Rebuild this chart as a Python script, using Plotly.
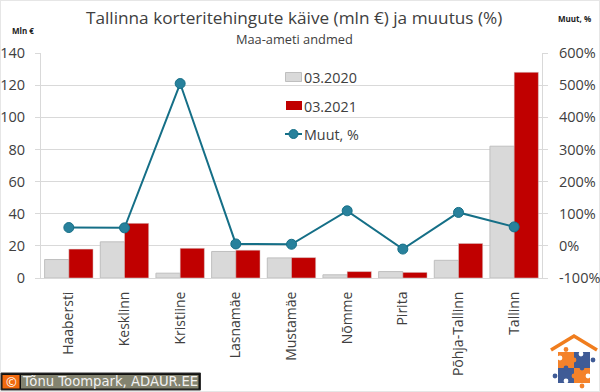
import plotly.graph_objects as go

categories = ["Haabersti", "Kesklinn", "Kristiine", "Lasnamäe", "Mustamäe", "Nõmme", "Pirita", "Põhja-Tallinn", "Tallinn"]
v2020 = [11.5, 22.5, 3, 16.5, 12.5, 2, 4, 11, 82]
v2021 = [18, 34, 18.5, 17.3, 12.7, 4, 3.5, 21.5, 128]
muut = [57, 56, 505, 6, 5, 109, -10, 104, 59]
left_ticks = [0, 20, 40, 60, 80, 100, 120, 140]
right_ticks = [-100, 0, 100, 200, 300, 400, 500, 600]
right_labels = ["-100%", "0%", "100%", "200%", "300%", "400%", "500%", "600%"]
W, H = 600, 392
ML, MR, MT, MB = 41, 58, 53, 114
TXT = "#404040"
FONT = "Open Sans"
LINE = "#156F87"
MARK = "#28819C"

fig = go.Figure()
fig.add_bar(x=categories, y=v2020, name="03.2020", marker=dict(color="#D9D9D9", line=dict(color="#BFBFBF", width=1)))
fig.add_bar(x=categories, y=v2021, name="03.2021", marker=dict(color="#C00000", line=dict(color="#D9D9D9", width=0.5)))
fig.add_scatter(x=categories, y=muut, name="Muut, %", mode="lines+markers", yaxis="y2",
                line=dict(color=LINE, width=2),
                marker=dict(size=10, color=MARK, line=dict(color=LINE, width=1)))

PW, PH = W - ML - MR, H - MT - MB
def px(x, y):
    return (x - ML) / PW, 1 - (y - MT) / PH

shapes = []
def rect(x0, y0, x1, y1, fill, line=None, lw=0, layer="above"):
    a, b = px(x0, y0); c, d = px(x1, y1)
    shapes.append(dict(type="rect", xref="paper", yref="paper", x0=a, y0=d, x1=c, y1=b, fillcolor=fill,
                       line=dict(color=line or fill, width=lw), layer=layer))
def poly(points, fill=None, line=None, lw=0):
    s = []
    for x, y in points:
        a, b = px(x, y)
        s.append(f"{a:.5f},{b:.5f}")
    path = "M " + " L ".join(s) + (" Z" if fill else "")
    shapes.append(dict(type="path", xref="paper", yref="paper", path=path, fillcolor=fill,
                       line=dict(color=line or "rgba(0,0,0,0)", width=lw), layer="above"))
def dot(cx, cy, r, fill, line=None, lw=0):
    a, b = px(cx - r, cy - r); c, d = px(cx + r, cy + r)
    shapes.append(dict(type="circle", xref="paper", yref="paper", x0=a, y0=d, x1=c, y1=b, fillcolor=fill,
                       line=dict(width=lw, color=line or fill), layer="above"))

# page edge
rect(0, 0, 600, 392, "rgba(0,0,0,0)", "#E6E6E6", 2, layer="below")
# copyright box
rect(1, 373, 200.5, 390, "#111111", "#333333", 1)
rect(2.5, 375, 19.5, 388.5, "#F26A0F")
rect(21, 375, 198.5, 388.5, "#83836F")
# logo
poly([(551, 350), (574, 336), (597, 350)], None, "#F07D1E", 3.5)
rect(558, 352, 574, 368, "#F4822A")
rect(574, 352, 590, 368, "#3F5B96")
rect(558, 368, 574, 383, "#3F5B96")
rect(574, 368, 590, 383, "#F4822A")
for cx, cy, c in [(566, 349.5, "#F4822A"), (593, 360, "#3F5B96"), (555, 376, "#3F5B96"), (582, 386, "#F4822A"),
                  (566, 368, "#3F5B96"), (582, 368, "#3F5B96"), (574, 376, "#F4822A"), (574, 360, "#F4822A"),
                  (581, 354, "#FFFFFF"), (566, 381, "#FFFFFF"), (588, 376, "#FFFFFF"), (560, 358, "#FFFFFF")]:
    dot(cx, cy, 2.4, c)
# legend swatches
rect(285.5, 72.5, 301.5, 81.5, "#D9D9D9", "#BFBFBF", 1)
rect(286, 101, 302, 110, "#C00000")
poly([(285, 134), (302, 134)], None, LINE, 2)
dot(293.5, 134, 4.5, MARK, LINE, 1)

def note(text, x, y, size, color=TXT, xa="center", family=FONT, bold=False):
    a, b = px(x, y)
    fig.add_annotation(text=f"<b>{text}</b>" if bold else text, xref="paper", yref="paper", x=a, y=b, showarrow=False,
                       xanchor=xa, yanchor="middle", font=dict(size=size, color=color, family=family))

note("Tallinna korteritehingute käive (mln €) ja muutus (%)", 294, 17.5, 17.2)
note("Maa-ameti andmed", 294, 39, 12.8)
note("Mln €", 23, 30, 8, "#222222", bold=True)
note("Muut, %", 574, 18, 8, "#222222", bold=True)
note("©", 11, 381.5, 13, "#FFFFFF")
note("Tõnu Toompark, ADAUR.EE", 20, 381.5, 13.2, "#F2F2F2", xa="left", family="DejaVu Sans")
note("03.2020", 301.5, 77, 14.3, xa="left")
note("03.2021", 301.5, 106, 14.3, xa="left")
note("Muut, %", 301.5, 134, 14.3, xa="left")

axis_line = "#D9D9D9"
fig.update_layout(
    width=W, height=H, autosize=False, paper_bgcolor="white", plot_bgcolor="white",
    margin=dict(l=ML, r=MR, t=MT, b=MB, pad=0, autoexpand=False),
    barmode="group", bargap=0.13, bargroupgap=0, showlegend=False,
    font=dict(family=FONT, color=TXT, size=14),
    shapes=shapes,
    xaxis=dict(type="category", range=[-0.5, 8.5], tickangle=-90, showgrid=False, showline=True, linecolor=axis_line, ticks="",
               tickfont=dict(size=14, color=TXT), ticklabelstandoff=7),
    yaxis=dict(range=[0, 140], tickvals=left_ticks, showgrid=True, gridcolor=axis_line, gridwidth=1, showline=True,
               linecolor=axis_line, ticks="outside", ticklen=5, tickcolor=axis_line, tickfont=dict(size=14.5, color=TXT),
               zeroline=False, ticklabelstandoff=7),
    yaxis2=dict(range=[-100, 600], tickvals=right_ticks, ticktext=right_labels, overlaying="y", side="right", showgrid=False,
                showline=True, linecolor=axis_line, ticks="outside", ticklen=5, tickcolor=axis_line,
                tickfont=dict(size=14.5, color=TXT), zeroline=False, ticklabelstandoff=8),
)
fig.write_html("out.html", config={"displayModeBar": False},
               post_script="document.body.style.margin='0';document.documentElement.style.overflow='hidden';")
